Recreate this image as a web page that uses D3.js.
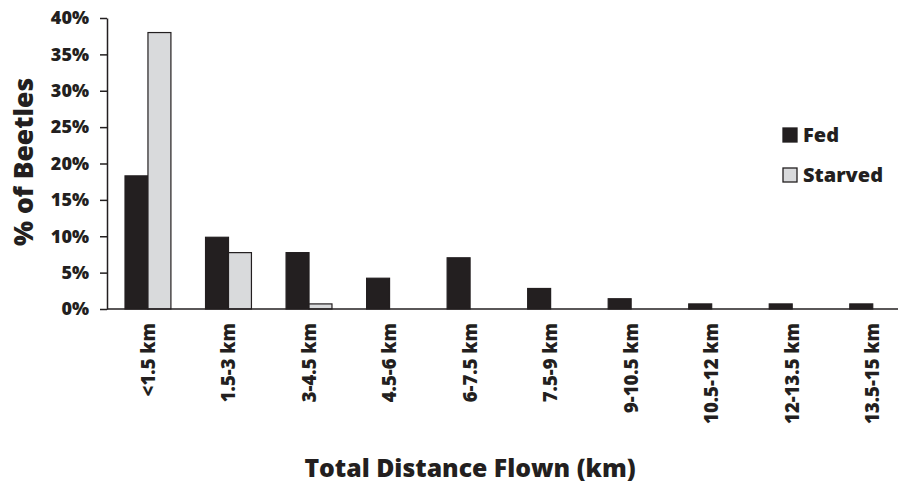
<!DOCTYPE html>
<html>
<head>
<meta charset="utf-8">
<script src="https://cdn.jsdelivr.net/npm/d3@7"></script>
<style>
  body { margin: 0; background: #fff; }
  text { font-family: "Open Sans", sans-serif; font-weight: 800; fill: #231f20; }
</style>
</head>
<body>
<div id="chart"></div>
<script>
// distance classes
const categories = ["<1.5 km", "1.5-3 km", "3-4.5 km", "4.5-6 km", "6-7.5 km",
  "7.5-9 km", "9-10.5 km", "10.5-12 km", "12-13.5 km", "13.5-15 km"];
const series = ["Fed", "Starved"];
const fedValues = [18.3, 9.86, 7.75, 4.23, 7.04, 2.82, 1.41, 0.70, 0.70, 0.70];
const starvedValues = [38.0, 7.75, 0.70, 0, 0, 0, 0, 0, 0, 0];
const yTicks = [0, 5, 10, 15, 20, 25, 30, 35, 40];

let width = 903, height = 486,
  margin = ({ top: 18, right: -10, bottom: 177, left: 107.7 });

const colors = { Fed: "#231f20", Starved: "#d9dadc" };

let data = categories.map((c, i) => ({ cat: c, Fed: fedValues[i], Starved: starvedValues[i] }));

let x = d3.scaleBand()
  .domain(categories)
  .range([margin.left, width - margin.right])
  .paddingInner(0.43)
  .paddingOuter(0.215);

let x1 = d3.scaleBand()
  .domain(series)
  .range([0, x.bandwidth()]);

let y = d3.scaleLinear()
  .domain([0, 40])
  .range([height - margin.bottom, margin.top]);

const svg = d3.select("#chart")
  .append("svg")
  .attr("width", width)
  .attr("height", height)
  .attr("viewBox", [0, 0, width, height]);

// bars
svg.append("g")
  .selectAll("g")
  .data(data)
  .join("g")
  .attr("transform", d => `translate(${x(d.cat)},0)`)
  .selectAll("rect")
  .data(d => series.map(s => ({ key: s, value: d[s] })).filter(d => d.value > 0))
  .join("rect")
  .attr("x", d => x1(d.key))
  .attr("width", x1.bandwidth())
  .attr("y", d => y(d.value))
  .attr("height", d => y(0) - y(d.value))
  .attr("fill", d => colors[d.key])
  .attr("stroke", "#231f20")
  .attr("stroke-width", 1.2);

// y axis
const yAxis = svg.append("g")
  .attr("transform", `translate(${margin.left - 0.7},0)`)
  .call(d3.axisLeft(y).tickValues(yTicks).tickFormat(d => d + "%").tickSize(7).tickPadding(11).tickSizeOuter(0));
yAxis.selectAll("path, line").attr("stroke", "#231f20").attr("stroke-width", 1.5);
yAxis.selectAll("text").style("font-size", "18px").attr("fill", "#231f20");

// x axis
const xAxis = svg.append("g")
  .attr("transform", `translate(0,${y(0)})`)
  .call(d3.axisBottom(x).tickSize(0).tickSizeOuter(0));
xAxis.select(".domain").remove();
xAxis.append("line")
  .attr("x1", margin.left - 0.7)
  .attr("x2", 898)
  .attr("stroke", "#231f20")
  .attr("stroke-width", 1.5);
xAxis.selectAll("text")
  .style("font-size", "18.5px")
  .attr("fill", "#231f20")
  .attr("transform", "rotate(-90)")
  .attr("text-anchor", "end")
  .attr("x", -14)
  .attr("y", 0)
  .attr("dy", "0.36em");

// axis titles
svg.append("text")
  .attr("transform", `translate(33,162) rotate(-90)`)
  .attr("text-anchor", "middle")
  .style("font-size", "26.5px")
  .text("% of Beetles");

svg.append("text")
  .attr("x", 470)
  .attr("y", 477)
  .attr("text-anchor", "middle")
  .style("font-size", "24.8px")
  .text("Total Distance Flown (km)");

// legend
const legend = svg.append("g")
  .selectAll("g")
  .data(series)
  .join("g")
  .attr("transform", (d, i) => `translate(783,${128 + i * 40})`);
legend.append("rect")
  .attr("width", 14)
  .attr("height", 14)
  .attr("fill", d => colors[d])
  .attr("stroke", "#231f20")
  .attr("stroke-width", 1.3);
legend.append("text")
  .attr("x", 20)
  .attr("y", 7)
  .attr("dy", "0.36em")
  .style("font-size", "20px")
  .text(d => d);
</script>
</body>
</html>
